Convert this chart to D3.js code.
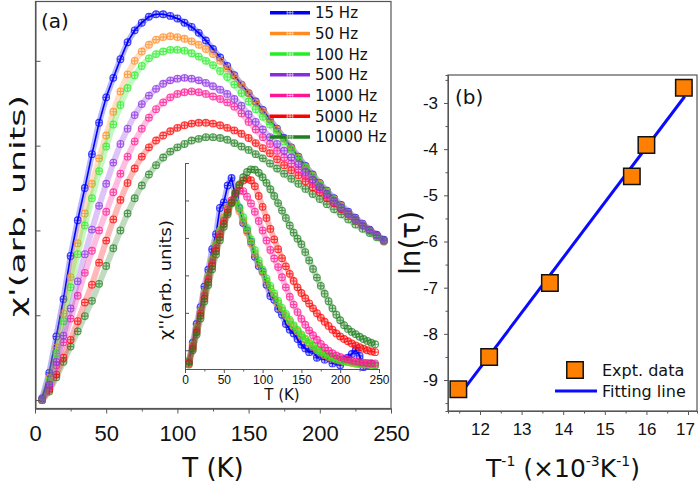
<!DOCTYPE html>
<html>
<head>
<meta charset="utf-8">
<script src="https://cdn.jsdelivr.net/npm/d3@7"></script>
<style>
    body { margin: 0; background: #fff; }
    svg { display: block; font-family: 'DejaVu Sans', Verdana, sans-serif; }
</style>
</head>
<body>
<div id="chart"></div>
<script>
// temperature grid of the ac sweeps (K)
const tempK = [5, 10, 15, 20, 25, 30, 35, 40, 45, 50, 55, 60, 65, 70, 75, 80, 85, 90, 95, 100,
    105, 110, 115, 120, 125, 130, 135, 140, 145, 150, 155, 160, 165, 170, 175, 180, 185, 190, 195, 200,
    205, 210, 215, 220, 225, 230, 235, 240, 245];

const freqLabels = ['15 Hz', '50 Hz', '100 Hz', '500 Hz', '1000 Hz', '5000 Hz', '10000 Hz'];

// chi' (arb. units), one array per frequency
const chiReal15 = [1.02, 1.32, 1.75, 2.19, 2.70, 3.12, 3.50, 3.90, 4.27, 4.57, 4.80, 5.02, 5.22, 5.36, 5.45, 5.52, 5.55, 5.55, 5.53, 5.50,
    5.45, 5.40, 5.33, 5.24, 5.14, 5.04, 4.94, 4.83, 4.72, 4.62, 4.52, 4.42, 4.31, 4.20, 4.09, 3.98, 3.87, 3.76, 3.66, 3.56,
    3.47, 3.38, 3.30, 3.22, 3.15, 3.08, 3.01, 2.95, 2.89];
const chiReal50 = [1.00, 1.26, 1.62, 2.02, 2.45, 2.85, 3.20, 3.55, 3.85, 4.12, 4.40, 4.64, 4.84, 5.00, 5.11, 5.19, 5.25, 5.28, 5.29, 5.28,
    5.26, 5.23, 5.19, 5.14, 5.08, 5.00, 4.91, 4.82, 4.72, 4.62, 4.51, 4.41, 4.30, 4.19, 4.08, 3.97, 3.86, 3.75, 3.65, 3.55,
    3.46, 3.37, 3.29, 3.21, 3.14, 3.07, 3.00, 2.94, 2.88];
const chiReal100 = [1.00, 1.22, 1.55, 1.93, 2.33, 2.72, 3.06, 3.38, 3.70, 3.99, 4.25, 4.48, 4.68, 4.83, 4.94, 5.03, 5.08, 5.11, 5.13, 5.13,
    5.12, 5.09, 5.05, 5.00, 4.95, 4.88, 4.81, 4.72, 4.62, 4.52, 4.43, 4.34, 4.25, 4.15, 4.05, 3.95, 3.85, 3.74, 3.64, 3.54,
    3.45, 3.36, 3.28, 3.20, 3.13, 3.06, 2.99, 2.93, 2.88];
const chiReal500 = [1.00, 1.18, 1.45, 1.76, 2.08, 2.40, 2.72, 3.01, 3.29, 3.55, 3.80, 4.02, 4.20, 4.36, 4.49, 4.59, 4.67, 4.73, 4.77, 4.79,
    4.80, 4.79, 4.77, 4.74, 4.70, 4.66, 4.61, 4.55, 4.47, 4.37, 4.28, 4.19, 4.10, 4.02, 3.94, 3.86, 3.78, 3.69, 3.60, 3.51,
    3.43, 3.35, 3.27, 3.20, 3.13, 3.06, 3.00, 2.94, 2.88];
const chiReal1000 = [1.00, 1.16, 1.41, 1.68, 1.96, 2.23, 2.50, 2.76, 3.00, 3.22, 3.45, 3.67, 3.87, 4.05, 4.20, 4.33, 4.43, 4.51, 4.57, 4.61,
    4.63, 4.64, 4.63, 4.61, 4.58, 4.55, 4.51, 4.46, 4.38, 4.28, 4.19, 4.10, 4.02, 3.94, 3.86, 3.79, 3.72, 3.64, 3.56, 3.48,
    3.41, 3.33, 3.26, 3.19, 3.12, 3.06, 3.00, 2.94, 2.88];
const chiReal5000 = [1.00, 1.12, 1.30, 1.50, 1.71, 1.93, 2.15, 2.36, 2.62, 2.88, 3.13, 3.36, 3.56, 3.73, 3.87, 3.98, 4.06, 4.12, 4.17, 4.21,
    4.24, 4.26, 4.27, 4.27, 4.26, 4.24, 4.21, 4.18, 4.14, 4.09, 4.03, 3.97, 3.91, 3.84, 3.77, 3.71, 3.65, 3.58, 3.51, 3.45,
    3.38, 3.32, 3.25, 3.19, 3.12, 3.06, 3.00, 2.94, 2.88];
const chiReal10000 = [1.00, 1.10, 1.27, 1.45, 1.63, 1.81, 1.99, 2.17, 2.37, 2.58, 2.79, 3.00, 3.20, 3.38, 3.53, 3.66, 3.77, 3.86, 3.93, 3.98,
    4.02, 4.06, 4.08, 4.10, 4.10, 4.09, 4.07, 4.03, 3.99, 3.95, 3.90, 3.85, 3.79, 3.73, 3.67, 3.61, 3.55, 3.49, 3.43, 3.37,
    3.31, 3.25, 3.19, 3.13, 3.07, 3.02, 2.97, 2.92, 2.87];

// chi'' (arb. units) for the inset, no 500 Hz trace there
const chiImag15 = [0.20, 0.70, 1.20, 1.65, 2.20, 2.65, 3.20, 3.60, 4.30, 4.45, 4.90, 5.10, 4.60, 4.30, 3.90, 3.70, 3.40, 3.00, 2.75, 2.60,
    2.25, 1.95, 1.85, 1.60, 1.45, 1.20, 1.05, 0.95, 0.80, 0.65, 0.55, 0.45, 0.50, 0.30, 0.35, 0.25, 0.30, 0.15, 0.20, 0.10,
    0.25, 0.30, 0.40, 0.50, 0.35, 0.05, 0.10, 0.15, 0.10];
const chiImag50 = [0.22, 0.65, 1.10, 1.55, 2.03, 2.48, 2.93, 3.33, 3.70, 4.05, 4.32, 4.50, 4.45, 4.22, 3.95, 3.65, 3.35, 3.08, 2.82, 2.58,
    2.35, 2.15, 1.95, 1.75, 1.57, 1.42, 1.27, 1.13, 1.00, 0.88, 0.78, 0.68, 0.59, 0.50, 0.43, 0.37, 0.32, 0.28, 0.25, 0.22,
    0.20, 0.18, 0.16, 0.14, 0.13, 0.12, 0.12, 0.11, 0.11];
const chiImag100 = [0.20, 0.62, 1.07, 1.52, 2.00, 2.45, 2.90, 3.30, 3.67, 4.00, 4.27, 4.43, 4.47, 4.32, 4.05, 3.76, 3.46, 3.17, 2.90, 2.65,
    2.42, 2.22, 2.02, 1.82, 1.63, 1.47, 1.31, 1.17, 1.04, 0.92, 0.81, 0.71, 0.62, 0.53, 0.46, 0.40, 0.35, 0.31, 0.27, 0.24,
    0.21, 0.19, 0.17, 0.15, 0.14, 0.13, 0.12, 0.11, 0.11];
const chiImag1000 = [0.18, 0.60, 1.03, 1.48, 1.95, 2.40, 2.83, 3.22, 3.60, 3.95, 4.25, 4.50, 4.67, 4.76, 4.75, 4.60, 4.42, 4.20, 3.95, 3.70,
    3.43, 3.18, 2.95, 2.72, 2.45, 2.18, 1.93, 1.72, 1.52, 1.34, 1.18, 1.03, 0.90, 0.78, 0.67, 0.57, 0.49, 0.42, 0.36, 0.32,
    0.28, 0.25, 0.22, 0.20, 0.18, 0.17, 0.16, 0.15, 0.15];
const chiImag5000 = [0.15, 0.55, 0.98, 1.42, 1.88, 2.32, 2.75, 3.15, 3.52, 3.87, 4.18, 4.45, 4.70, 4.90, 5.03, 5.08, 5.04, 4.88, 4.62, 4.33,
    4.03, 3.74, 3.46, 3.20, 2.96, 2.74, 2.54, 2.35, 2.18, 2.03, 1.89, 1.75, 1.62, 1.49, 1.37, 1.26, 1.15, 1.05, 0.95, 0.87,
    0.80, 0.74, 0.68, 0.63, 0.58, 0.54, 0.50, 0.47, 0.45];
const chiImag10000 = [0.12, 0.50, 0.92, 1.35, 1.80, 2.24, 2.66, 3.06, 3.44, 3.80, 4.13, 4.43, 4.70, 4.93, 5.12, 5.26, 5.33, 5.32, 5.24, 5.12,
    4.97, 4.80, 4.62, 4.43, 4.23, 4.03, 3.83, 3.64, 3.48, 3.33, 3.12, 2.90, 2.67, 2.44, 2.22, 2.01, 1.81, 1.62, 1.45, 1.30,
    1.17, 1.07, 0.99, 0.93, 0.86, 0.80, 0.75, 0.70, 0.66];

// panel (b): Arrhenius plot
const invTemp = [11.48, 12.22, 13.68, 15.65, 16.00, 16.90];
const lnTau = [-9.20, -8.50, -6.90, -4.59, -3.91, -2.67];
const fitInvTemp = [11.48, 16.92];
const fitLnTau = [-9.36, -2.86];

// tick labels
const tempTicks = [0, 50, 100, 150, 200, 250];
const invTempTicks = [12, 13, 14, 15, 16, 17];
const lnTauTicks = [-3, -4, -5, -6, -7, -8, -9];

class AcChart {
    constructor() {
        const attrs = {
            container: '#chart',
            svgWidth: 700,
            svgHeight: 485,
            colors: ['#0000ff', '#ff8a1f', '#22ee22', '#8a2be2', '#ff1493', '#ff0000', '#1f7f1f']
        };
        this.getState = () => attrs;
        this.setState = (d) => Object.assign(attrs, d);
    }

    render() {
        const { container, svgWidth, svgHeight } = this.getState();
        const svg = d3.select(container).append('svg')
            .attr('width', svgWidth)
            .attr('height', svgHeight);

        // circle with a cross, the Origin "circle plus" marker
        const circlePlus = {
            draw(context, size) {
                const r = Math.sqrt(size / Math.PI);
                context.moveTo(r, 0);
                context.arc(0, 0, r, 0, 2 * Math.PI);
                context.moveTo(-r, 0);
                context.lineTo(r, 0);
                context.moveTo(0, -r);
                context.lineTo(0, r);
            }
        };
        this.setState({ svg, circlePlus });

        this.drawPanelA();
        this.drawInset();
        this.drawPanelB();
        return this;
    }

    drawSeries(g, x, y, rows, color, withLine) {
        const { circlePlus } = this.getState();
        const line = d3.line().x(d => x(d.t)).y(d => y(d.v));
        // pale ribbon standing in for the densely packed markers
        g.append('path')
            .datum(rows)
            .attr('fill', 'none')
            .attr('stroke', color)
            .attr('stroke-opacity', 0.28)
            .attr('stroke-width', 6)
            .attr('stroke-linejoin', 'round')
            .attr('d', line);
        if (withLine) {
            g.append('path')
                .datum(rows)
                .attr('fill', 'none')
                .attr('stroke', color)
                .attr('stroke-width', 1.6)
                .attr('d', line);
        }
        g.append('g')
            .selectAll('path')
            .data(rows)
            .join('path')
            .attr('transform', d => 'translate(' + x(d.t) + ',' + y(d.v) + ')')
            .attr('d', d3.symbol().type(circlePlus).size(36))
            .attr('fill', 'none')
            .attr('stroke', color)
            .attr('stroke-opacity', 0.75)
            .attr('stroke-width', 1.1);
    }

    drawPanelA() {
        const { svg, colors, circlePlus } = this.getState();
        const x = d3.scaleLinear().domain([0, 250]).range([35, 391]);
        const y = d3.scaleLinear().domain([0.9, 5.7]).range([408.5, 1.5]);
        const g = svg.append('g').attr('class', 'panel-a');

        const series = [chiReal15, chiReal50, chiReal100, chiReal500, chiReal1000, chiReal5000, chiReal10000]
            .map((vals, i) => ({ i, rows: tempK.map((t, k) => ({ t, v: vals[k] })) }));
        const order = [6, 5, 4, 0, 1, 2, 3];
        order.forEach(i => {
            this.drawSeries(g.append('g'), x, y, series[i].rows, colors[i], i === 0);
        });

        // frame
        g.append('rect')
            .attr('x', 35.5).attr('y', 1.5)
            .attr('width', 355.5).attr('height', 407)
            .attr('fill', 'none').attr('stroke', '#555').attr('stroke-width', 1.2);

        const xAxis = g.append('g')
            .attr('transform', 'translate(0,408.5)')
            .call(d3.axisBottom(x).tickValues(tempTicks).tickSize(5).tickPadding(12).tickSizeOuter(0));
        xAxis.selectAll('text').attr('font-size', 22).attr('font-family', null).attr('fill', '#111');
        g.append('g')
            .attr('transform', 'translate(0,408.5)')
            .call(d3.axisBottom(x).tickValues([25, 75, 125, 175, 225]).tickSize(3).tickFormat(''));
        g.append('g')
            .attr('transform', 'translate(35.5,0)')
            .call(d3.axisRight(y).tickValues([1, 2, 3, 4, 5]).tickSize(5).tickFormat('').tickSizeOuter(0));
        g.selectAll('.domain').attr('stroke', '#555');
        g.selectAll('.tick line').attr('stroke', '#555');

        g.append('text')
            .attr('x', 213).attr('y', 477)
            .attr('text-anchor', 'middle')
            .attr('font-size', 26).attr('fill', '#111')
            .text('T (K)');
        g.append('text')
            .attr('transform', 'translate(25,206) rotate(-90)')
            .attr('text-anchor', 'middle')
            .attr('font-size', 22).attr('fill', '#111')
            .attr('textLength', 222).attr('lengthAdjust', 'spacingAndGlyphs')
            .text("χ'(arb. units)");
        g.append('text')
            .attr('x', 41).attr('y', 28)
            .attr('font-size', 20).attr('fill', '#111')
            .text('(a)');

        // legend
        const legend = g.append('g').attr('class', 'legend-a');
        freqLabels.forEach((label, i) => {
            const ly = 12.7 + i * 20.7;
            legend.append('line')
                .attr('x1', 270).attr('x2', 310).attr('y1', ly).attr('y2', ly)
                .attr('stroke', colors[i]).attr('stroke-width', 3.5);
            legend.append('path')
                .attr('transform', 'translate(290,' + ly + ')')
                .attr('d', d3.symbol().type(circlePlus).size(30))
                .attr('fill', 'none').attr('stroke', '#fff')
                .attr('stroke-opacity', 0.55).attr('stroke-width', 1);
            legend.append('text')
                .attr('x', 315).attr('y', ly)
                .attr('dy', '0.36em')
                .attr('font-size', 15).attr('fill', '#111')
                .text(label);
        });
    }

    drawInset() {
        const { svg, colors } = this.getState();
        const x = d3.scaleLinear().domain([0, 250]).range([185, 379]);
        const y = d3.scaleLinear().domain([0, 5.5]).range([369, 163]);
        const g = svg.append('g').attr('class', 'inset');

        const imag = [chiImag15, chiImag50, chiImag100, chiImag1000, chiImag5000, chiImag10000];
        const colorIdx = [0, 1, 2, 4, 5, 6];
        imag.forEach((vals, j) => {
            const rows = tempK.map((t, k) => ({ t, v: vals[k] }));
            this.drawSeries(g.append('g'), x, y, rows, colors[colorIdx[j]], j === 0);
        });

        const xAxis = g.append('g')
            .attr('transform', 'translate(0,369)')
            .call(d3.axisBottom(x).tickValues(tempTicks).tickSize(4).tickPadding(2).tickSizeOuter(0));
        xAxis.selectAll('text').attr('font-size', 12).attr('font-family', null).attr('fill', '#111');
        g.append('g')
            .attr('transform', 'translate(0,369)')
            .call(d3.axisBottom(x).tickValues([25, 75, 125, 175, 225]).tickSize(2.5).tickFormat(''));
        g.append('g')
            .attr('transform', 'translate(185,0)')
            .call(d3.axisRight(y).tickValues([0.5, 1.5, 2.5, 3.5, 4.5, 5.5]).tickSize(4).tickFormat('').tickSizeOuter(0));
        g.selectAll('.domain').attr('stroke', '#555');
        g.selectAll('.tick line').attr('stroke', '#555');

        g.append('text')
            .attr('x', 282).attr('y', 400)
            .attr('text-anchor', 'middle')
            .attr('font-size', 15).attr('fill', '#111')
            .text('T (K)');
        g.append('text')
            .attr('transform', 'translate(171,280) rotate(-90)')
            .attr('text-anchor', 'middle')
            .attr('font-size', 15).attr('fill', '#111')
            .attr('textLength', 120).attr('lengthAdjust', 'spacingAndGlyphs')
            .text("χ''(arb. units)");
    }

    drawPanelB() {
        const { svg } = this.getState();
        const x = d3.scaleLinear().domain([11.231, 17.216]).range([448, 697]);
        const y = d3.scaleLinear().domain([-9.671, -2.394]).range([411, 75]);
        const g = svg.append('g').attr('class', 'panel-b');

        g.append('rect')
            .attr('x', 448).attr('y', 75)
            .attr('width', 249).attr('height', 336)
            .attr('fill', 'none').attr('stroke', '#555').attr('stroke-width', 1.2);

        const xAxis = g.append('g')
            .attr('transform', 'translate(0,411)')
            .call(d3.axisBottom(x).tickValues(invTempTicks).tickSize(4).tickPadding(8).tickSizeOuter(0)
                .tickFormat(d => String(d)));
        xAxis.selectAll('text').attr('font-size', 17).attr('font-family', null).attr('fill', '#111');
        xAxis.selectAll('.tick:last-of-type text').attr('dx', -3);
        g.append('g')
            .attr('transform', 'translate(0,411)')
            .call(d3.axisBottom(x).tickValues([11.5, 12.5, 13.5, 14.5, 15.5, 16.5]).tickSize(2.5).tickFormat(''));
        const yAxis = g.append('g')
            .attr('transform', 'translate(448,0)')
            .call(d3.axisLeft(y).tickValues(lnTauTicks).tickSize(4).tickPadding(6).tickSizeOuter(0)
                .tickFormat(d => String(d)));
        yAxis.selectAll('text').attr('font-size', 17).attr('font-family', null).attr('fill', '#111');
        g.append('g')
            .attr('transform', 'translate(448,0)')
            .call(d3.axisLeft(y).tickValues([-2.5, -3.5, -4.5, -5.5, -6.5, -7.5, -8.5, -9.5]).tickSize(2.5).tickFormat(''));
        g.selectAll('.domain').attr('stroke', '#555');
        g.selectAll('.tick line').attr('stroke', '#555');

        const fitRows = fitInvTemp.map((t, k) => ({ t, v: fitLnTau[k] }));
        g.append('path')
            .datum(fitRows)
            .attr('fill', 'none')
            .attr('stroke', '#0a0aff')
            .attr('stroke-width', 3)
            .attr('d', d3.line().x(d => x(d.t)).y(d => y(d.v)));

        const square = d3.symbol().type(d3.symbolSquare).size(270);
        g.append('g')
            .selectAll('path')
            .data(invTemp.map((t, k) => ({ t, v: lnTau[k] })))
            .join('path')
            .attr('transform', d => 'translate(' + x(d.t) + ',' + y(d.v) + ')')
            .attr('d', square)
            .attr('fill', '#ff8000')
            .attr('stroke', '#111')
            .attr('stroke-width', 1.5);

        g.append('text')
            .attr('x', 455).attr('y', 104)
            .attr('font-size', 20).attr('fill', '#111')
            .text('(b)');

        // legend
        g.append('path')
            .attr('transform', 'translate(575,370)')
            .attr('d', square)
            .attr('fill', '#ff8000').attr('stroke', '#111').attr('stroke-width', 1.5);
        g.append('text')
            .attr('x', 602).attr('y', 370).attr('dy', '0.36em')
            .attr('font-size', 16).attr('fill', '#111')
            .text('Expt. data');
        g.append('line')
            .attr('x1', 555).attr('x2', 597).attr('y1', 391).attr('y2', 391)
            .attr('stroke', '#0a0aff').attr('stroke-width', 3);
        g.append('text')
            .attr('x', 602).attr('y', 391).attr('dy', '0.36em')
            .attr('font-size', 16).attr('fill', '#111')
            .text('Fitting line');

        g.append('text')
            .attr('transform', 'translate(420,243) rotate(-90)')
            .attr('text-anchor', 'middle')
            .attr('font-size', 28).attr('fill', '#111')
            .text('ln(τ)');

        const xl = g.append('text')
            .attr('x', 563).attr('y', 477)
            .attr('text-anchor', 'middle')
            .attr('font-size', 25).attr('fill', '#111');
        xl.append('tspan').text('T');
        xl.append('tspan').attr('font-size', 14).attr('dy', -11).text('-1');
        xl.append('tspan').attr('dy', 11).text(' (×10');
        xl.append('tspan').attr('font-size', 14).attr('dy', -11).text('-3');
        xl.append('tspan').attr('dy', 11).text('K');
        xl.append('tspan').attr('font-size', 14).attr('dy', -11).text('-1');
        xl.append('tspan').attr('dy', 11).text(')');
    }
}

new AcChart().render();
</script>
</body>
</html>
